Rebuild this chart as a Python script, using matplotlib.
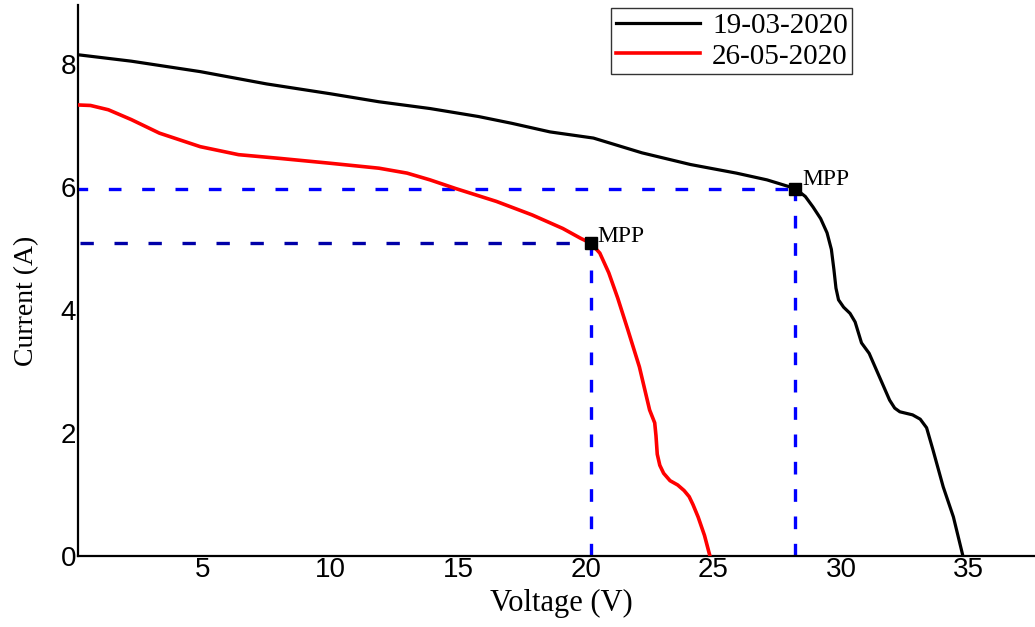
import numpy as np
import matplotlib
matplotlib.use("Agg")
import matplotlib.pyplot as plt

# =========================
# data
# =========================
v_0319 = [0, 2.2, 4.9, 7.5, 10.0, 11.9, 13.9, 15.8, 17.1, 18.6, 20.3, 22.2, 24.1,
          25.9, 27.1, 28.2, 28.6, 28.9, 29.2, 29.45, 29.62, 29.72, 29.8, 29.9, 30.1,
          30.35, 30.55, 30.8, 31.1, 31.5, 31.9, 32.1, 32.3, 32.8, 33.1, 33.35, 33.6,
          34.0, 34.4, 34.77]
i_0319 = [8.15, 8.04, 7.87, 7.67, 7.51, 7.38, 7.27, 7.14, 7.03, 6.89, 6.79, 6.55, 6.36,
          6.22, 6.11, 5.97, 5.84, 5.67, 5.48, 5.25, 4.98, 4.65, 4.35, 4.16, 4.04,
          3.94, 3.80, 3.46, 3.29, 2.91, 2.53, 2.40, 2.34, 2.29, 2.22, 2.08, 1.72,
          1.12, 0.63, 0.0]

v_0526 = [0, 0.6, 1.3, 2.2, 3.3, 4.9, 6.4, 8.0, 10.0, 11.9, 13.0, 13.9, 14.9, 16.5,
          17.9, 19.1, 19.8, 20.2, 20.55, 20.9, 21.25, 21.65, 22.1, 22.5, 22.7, 22.75,
          22.8, 22.9, 23.05, 23.3, 23.6, 23.85, 24.05, 24.2, 24.4, 24.65, 24.86]
i_0526 = [7.33, 7.32, 7.25, 7.09, 6.87, 6.65, 6.52, 6.46, 6.38, 6.30, 6.22, 6.11, 5.97,
          5.76, 5.54, 5.32, 5.16, 5.08, 4.92, 4.60, 4.19, 3.67, 3.07, 2.37, 2.16, 1.95,
          1.65, 1.47, 1.34, 1.22, 1.15, 1.06, 0.96, 0.83, 0.63, 0.33, 0.0]

labels = ["19-03-2020", "26-05-2020"]
mpp_v = [28.2, 20.2]
mpp_i = [5.97, 5.08]

x_ticks = [5, 10, 15, 20, 25, 30, 35]
y_ticks = [0, 2, 4, 6, 8]

# =========================
# figure
# =========================
fig = plt.figure(figsize=(10.35, 6.27), dpi=100)
ax = fig.add_axes([0.0751, 0.1137, 0.925, 0.878])

# MPP guide lines
ax.plot([0, mpp_v[0]], [mpp_i[0], mpp_i[0]], color="#0000ff", lw=2.4,
        dashes=(3.8, 6.2), zorder=2)
ax.plot([mpp_v[0], mpp_v[0]], [0, mpp_i[0]], color="#0000ff", lw=2.4,
        dashes=(3.8, 4.4), zorder=2)
ax.plot([0.2, mpp_v[1]], [mpp_i[1], mpp_i[1]], color="#0000a8", lw=2.4,
        dashes=(4.0, 6.2), zorder=2)
ax.plot([mpp_v[1], mpp_v[1]], [0, mpp_i[1]], color="#0000ff", lw=2.4,
        dashes=(3.8, 4.4), zorder=2)

ax.plot(v_0319, i_0319, color="black", lw=2.3, label=labels[0], zorder=3)
ax.plot(v_0526, i_0526, color="#ff0000", lw=2.6, label=labels[1], zorder=3)

ax.plot(mpp_v, mpp_i, "s", color="black", ms=8, zorder=4)
ax.annotate("MPP", (mpp_v[0], mpp_i[0]), xytext=(5, -1), textcoords="offset points",
            ha="left", va="bottom", fontsize=17, family="Liberation Serif")
ax.annotate("MPP", (mpp_v[1], mpp_i[1]), xytext=(5, -3), textcoords="offset points",
            ha="left", va="bottom", fontsize=17, family="Liberation Serif")

ax.set_xlim(0.1, 37.6)
ax.set_ylim(0, 8.95)
ax.set_xticks(x_ticks)
ax.set_yticks(y_ticks)
ax.tick_params(length=0, labelsize=20, pad=1)
for lab in ax.get_xticklabels() + ax.get_yticklabels():
    lab.set_family("Liberation Sans")

for side in ["top", "right"]:
    ax.spines[side].set_visible(False)
for side in ["left", "bottom"]:
    ax.spines[side].set_linewidth(1.6)

ax.set_xlabel("Voltage (V)", fontsize=22, family="Liberation Serif")
ax.set_ylabel("Current (A)", fontsize=20, family="Liberation Serif")
ax.xaxis.set_label_coords(0.505, -0.06)
ax.yaxis.set_label_coords(-0.040, 0.4625)

leg = ax.legend(loc="upper right", bbox_to_anchor=(0.809, 0.995), borderaxespad=0,
                fancybox=False, edgecolor="#333333", framealpha=1,
                prop={"family": "Liberation Serif", "size": 21},
                handlelength=2.9, handletextpad=0.4, borderpad=0.15,
                labelspacing=0.15)
leg.get_frame().set_linewidth(1.0)

fig.savefig("out.png", dpi=100)
